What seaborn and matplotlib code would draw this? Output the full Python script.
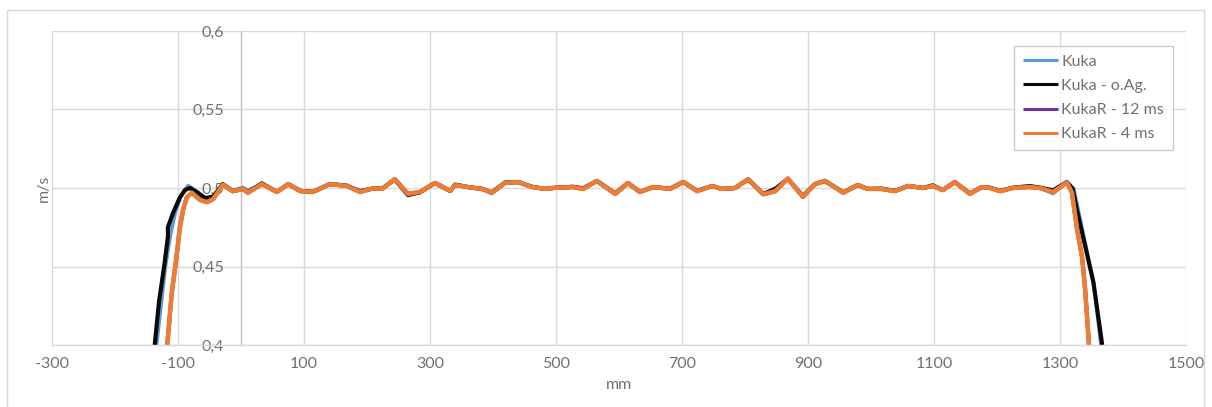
import numpy as np
import pandas as pd
from matplotlib import pyplot as plt
from matplotlib.patches import Rectangle
from matplotlib.ticker import FuncFormatter
import seaborn as sns

# Plateau (shared x positions, mm)
x_mid = [-29, -13, 3, 11, 33, 57, 75, 94, 114, 141, 168, 189, 210, 224, 244, 265, 284, 308,
         332, 340, 360, 383, 398, 419, 440, 462, 483, 495, 527, 543, 565, 594, 614, 633, 654,
         681, 702, 724, 748, 763, 784, 805, 829, 848, 868, 892, 911, 927, 956, 979, 995, 1017,
         1038, 1059, 1083, 1098, 1114, 1133, 1157, 1176, 1189, 1205, 1225, 1252, 1268, 1289, 1311]

v_orange_mid = [0.502, 0.498, 0.4994, 0.497, 0.5025, 0.4975, 0.5025, 0.498, 0.4975, 0.5025, 0.5013,
                0.4975, 0.4998, 0.4994, 0.5057, 0.4962, 0.4975, 0.5032, 0.4982, 0.5019, 0.5006,
                0.4994, 0.497, 0.5032, 0.5038, 0.5006, 0.4994, 0.5, 0.5006, 0.4994, 0.5045, 0.4962,
                0.5032, 0.4975, 0.5006, 0.4994, 0.5038, 0.498, 0.5013, 0.4994, 0.5, 0.5055, 0.496,
                0.498, 0.506, 0.4943, 0.5025, 0.5045, 0.497, 0.5019, 0.4994, 0.4994, 0.498, 0.5013,
                0.5, 0.5013, 0.4987, 0.5038, 0.4962, 0.5006, 0.5, 0.498, 0.5, 0.5006, 0.5, 0.4975, 0.5035]
v_purple_mid = [0.502, 0.498, 0.4994, 0.497, 0.5025, 0.4975, 0.5025, 0.498, 0.4975, 0.5025, 0.5013,
                0.4975, 0.4998, 0.4994, 0.5057, 0.4962, 0.4975, 0.5032, 0.4982, 0.5019, 0.5006,
                0.4994, 0.497, 0.5032, 0.5038, 0.5006, 0.4994, 0.5, 0.5006, 0.4994, 0.5045, 0.4962,
                0.5032, 0.4975, 0.5006, 0.4994, 0.5038, 0.498, 0.5013, 0.4994, 0.5, 0.5055, 0.496,
                0.498, 0.506, 0.4943, 0.5025, 0.5045, 0.497, 0.5019, 0.4994, 0.4994, 0.498, 0.5013,
                0.5, 0.5013, 0.4987, 0.5038, 0.4962, 0.5006, 0.5, 0.498, 0.5, 0.5006, 0.5, 0.4975, 0.5035]
v_black_mid = [0.5025, 0.498, 0.4994, 0.4972, 0.503, 0.4975, 0.5025, 0.4982, 0.4975, 0.5025, 0.5015,
               0.4978, 0.4998, 0.4996, 0.5055, 0.4955, 0.4972, 0.5032, 0.4982, 0.5022, 0.5006,
               0.4994, 0.4972, 0.5035, 0.5038, 0.5008, 0.4994, 0.5, 0.5008, 0.4998, 0.5045, 0.4965,
               0.5032, 0.4975, 0.5006, 0.4996, 0.5038, 0.4982, 0.5013, 0.4994, 0.5, 0.5055, 0.4962,
               0.4995, 0.5058, 0.4948, 0.5025, 0.5045, 0.4972, 0.5019, 0.4994, 0.4996, 0.4982, 0.5013,
               0.5, 0.5017, 0.4987, 0.5038, 0.4965, 0.5006, 0.5002, 0.4982, 0.5002, 0.5012, 0.5003, 0.4985, 0.5038]
v_blue_mid = [0.502, 0.4985, 0.5003, 0.4985, 0.5025, 0.4975, 0.5022, 0.498, 0.4975, 0.5025, 0.5013,
              0.4985, 0.4998, 0.4994, 0.5055, 0.4962, 0.4975, 0.503, 0.4978, 0.5019, 0.5006,
              0.4994, 0.4965, 0.5032, 0.5038, 0.5006, 0.4994, 0.5, 0.5006, 0.4994, 0.5045, 0.4962,
              0.5032, 0.4975, 0.5006, 0.4994, 0.5038, 0.498, 0.5013, 0.4994, 0.5, 0.5055, 0.496,
              0.498, 0.506, 0.4943, 0.5025, 0.5045, 0.497, 0.5019, 0.4994, 0.4994, 0.498, 0.5013,
              0.5, 0.5013, 0.4987, 0.5038, 0.4962, 0.5006, 0.5, 0.4978, 0.5, 0.5006, 0.5, 0.4965, 0.5038]

# Acceleration ramps
x_orange_start = [-117, -110, -103, -97, -92, -86, -78, -65, -54, -44]
v_orange_start = [0.4, 0.433, 0.454, 0.475, 0.486, 0.494, 0.497, 0.4924, 0.491, 0.493]
x_purple_start = [-117, -110, -103, -97, -92, -86, -78, -65, -54, -44]
v_purple_start = [0.4, 0.433, 0.454, 0.475, 0.486, 0.494, 0.497, 0.4924, 0.491, 0.493]
x_black_start = [-137, -130, -122, -116, -116, -108, -97, -89, -81, -70, -57, -44]
v_black_start = [0.4, 0.428, 0.45, 0.469, 0.475, 0.484, 0.494, 0.4987, 0.5, 0.4975, 0.4936, 0.4945]
x_blue_start = [-134, -120, -112, -104, -95, -84, -75, -65, -55, -44]
v_blue_start = [0.4, 0.45, 0.47, 0.485, 0.495, 0.5015, 0.499, 0.4945, 0.4935, 0.4945]

# Deceleration ramps
x_orange_end = [1319, 1327, 1335, 1340, 1346]
v_orange_end = [0.497, 0.474, 0.456, 0.435, 0.4]
x_purple_end = [1319, 1327, 1335, 1340, 1346]
v_purple_end = [0.497, 0.474, 0.456, 0.435, 0.4]
x_black_end = [1320, 1328, 1340, 1353, 1367]
v_black_end = [0.4995, 0.484, 0.463, 0.44, 0.4]
x_blue_end = [1322, 1331, 1342, 1354, 1365]
v_blue_end = [0.4995, 0.482, 0.461, 0.438, 0.4]

series = [
    ('Kuka', '#5B9BD5', 2.6, x_blue_start, v_blue_start, v_blue_mid, x_blue_end, v_blue_end),
    ('Kuka - o.Ag.', '#0a0a0a', 3.0, x_black_start, v_black_start, v_black_mid, x_black_end, v_black_end),
    ('KukaR - 12 ms', '#7030A0', 3.0, x_purple_start, v_purple_start, v_purple_mid, x_purple_end, v_purple_end),
    ('KukaR - 4 ms', '#ED7D31', 3.2, x_orange_start, v_orange_start, v_orange_mid, x_orange_end, v_orange_end),
]

sns.set_theme(style='white')
plt.rcParams['font.family'] = ['Lato', 'DejaVu Sans']
plt.rcParams['axes.unicode_minus'] = False
txt = '#707070'
grid = '#d9d9d9'
fs = 11.5

fig = plt.figure(figsize=(12.12, 4.07), dpi=100)
ax = fig.add_axes([52 / 1212, 1 - 345 / 407, (1186 - 52) / 1212, (345 - 31) / 407])

for name, color, lw, xs, vs, vm, xe, ve in series:
    df = pd.DataFrame({'mm': xs + x_mid + xe, 'v': vs + vm + ve})
    sns.lineplot(data=df, x='mm', y='v', ax=ax, color=color, linewidth=lw, label=name,
                 sort=False, estimator=None, solid_joinstyle='round', solid_capstyle='butt')

ax.set_xlim(-300, 1500)
ax.set_ylim(0.4, 0.6)
ax.set_xticks(np.arange(-300, 1501, 200))
ax.set_yticks([0.4, 0.45, 0.5, 0.55, 0.6])
ax.yaxis.set_major_formatter(FuncFormatter(lambda v, p: ('%g' % round(v, 3)).replace('.', ',')))
ax.grid(True, color=grid, linewidth=1)
ax.set_axisbelow(True)

for s in ['top', 'right']:
    ax.spines[s].set_visible(False)
ax.spines['left'].set_position(('data', 0))
ax.spines['left'].set_color('#bfbfbf')
ax.spines['bottom'].set_color(grid)
ax.spines['left'].set_linewidth(1)
ax.spines['bottom'].set_linewidth(1)
ax.spines['left'].set_zorder(0.5)

ax.tick_params(axis='both', length=0, labelsize=fs, labelcolor=txt)
ax.tick_params(axis='x', pad=9)
ax.tick_params(axis='y', pad=12)

ax.set_xlabel('mm', fontsize=fs, color=txt, labelpad=5)
ax.set_ylabel('m/s', fontsize=fs, color=txt)
ax.yaxis.set_label_coords(-1 / 1134, 0.5)

leg = ax.legend(loc='upper right', bbox_to_anchor=((1173 - 52) / 1134, (345 - 46) / 314),
                borderaxespad=0, fontsize=fs, frameon=True, fancybox=False,
                handlelength=2.2, handletextpad=0.2, labelspacing=0.62, borderpad=0.55)
leg.get_frame().set_edgecolor('#bfbfbf')
leg.get_frame().set_linewidth(1)
for t in leg.get_texts():
    t.set_color(txt)
for h in leg.get_lines():
    h.set_linewidth(2.2)

fig.patches.append(Rectangle((7 / 1212, -0.05), (1204 - 7) / 1212, 1.05 - 10 / 407,
                             transform=fig.transFigure, fill=False, edgecolor=grid, linewidth=1))

fig.savefig('out.png', dpi=100)
